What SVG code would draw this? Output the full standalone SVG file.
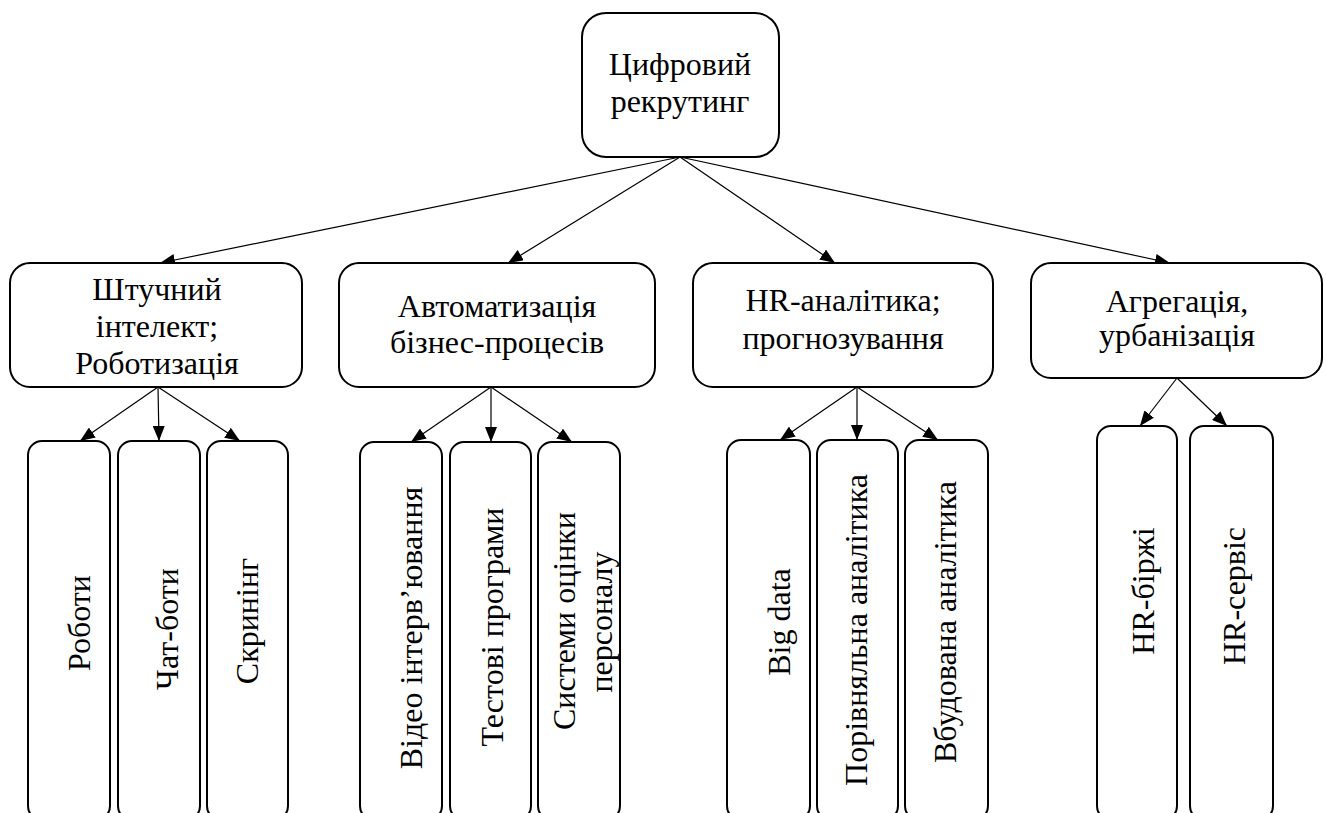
<svg xmlns="http://www.w3.org/2000/svg" width="1326" height="813" viewBox="0 0 1326 813" font-family="Liberation Serif, serif">
<defs>
<style>
.box{fill:#fff;stroke:#000;stroke-width:2}
.t{font-size:32px;fill:#000;text-anchor:middle}
.c{stroke:#000;stroke-width:1.2;fill:none;marker-end:url(#ah)}
</style>
<marker id="ah" markerUnits="userSpaceOnUse" markerWidth="16" markerHeight="12" refX="15" refY="6" orient="auto">
<path d="M0,0 L15,6 L0,12 z" fill="#000"/>
</marker>
</defs>
<rect width="1326" height="813" fill="#fff"/>
<g id="connectors">
<line class="c" x1="680" y1="157" x2="160" y2="263"/>
<line class="c" x1="680" y1="157" x2="508" y2="263"/>
<line class="c" x1="680" y1="157" x2="835" y2="263"/>
<line class="c" x1="680" y1="157" x2="1170" y2="263"/>
<line class="c" x1="158" y1="387" x2="80" y2="441"/>
<line class="c" x1="158" y1="387" x2="159" y2="441"/>
<line class="c" x1="158" y1="387" x2="240" y2="441"/>
<line class="c" x1="491" y1="387" x2="411" y2="442"/>
<line class="c" x1="491" y1="387" x2="491" y2="442"/>
<line class="c" x1="491" y1="387" x2="572" y2="442"/>
<line class="c" x1="857" y1="387" x2="780" y2="440"/>
<line class="c" x1="857" y1="387" x2="857" y2="440"/>
<line class="c" x1="857" y1="387" x2="938" y2="440"/>
<line class="c" x1="1177" y1="378" x2="1140" y2="426"/>
<line class="c" x1="1177" y1="378" x2="1227" y2="426"/>
</g>
<g id="root">
<rect class="box" x="582" y="13" width="197" height="144" rx="24"/>
<text class="t" x="680" y="75">Цифровий</text>
<text class="t" x="680" y="112">рекрутинг</text>
</g>
<g id="n1">
<rect class="box" x="10" y="263" width="292" height="124" rx="20"/>
<text class="t" x="157" y="300">Штучний</text>
<text class="t" x="157" y="337">інтелект;</text>
<text class="t" x="157" y="374">Роботизація</text>
</g>
<g id="n2">
<rect class="box" x="339" y="263" width="316" height="124" rx="20"/>
<text class="t" x="497" y="317">Автоматизація</text>
<text class="t" x="497" y="353">бізнес-процесів</text>
</g>
<g id="n3">
<rect class="box" x="693" y="263" width="300" height="124" rx="20"/>
<text class="t" x="843" y="311">HR-аналітика;</text>
<text class="t" x="843" y="349">прогнозування</text>
</g>
<g id="n4">
<rect class="box" x="1031" y="263" width="291" height="115" rx="20"/>
<text class="t" x="1177" y="312">Агрегація,</text>
<text class="t" x="1177" y="346">урбанізація</text>
</g>
<g id="l1">
<rect class="box" x="28" y="441" width="82" height="379" rx="14"/>
<text class="t" transform="translate(90,623) rotate(-90)">Роботи</text>
</g>
<g id="l2">
<rect class="box" x="118" y="441" width="82" height="379" rx="14"/>
<text class="t" transform="translate(178,629) rotate(-90)">Чат-боти</text>
</g>
<g id="l3">
<rect class="box" x="207" y="441" width="81" height="379" rx="14"/>
<text class="t" transform="translate(258,621) rotate(-90)">Скринінг</text>
</g>
<g id="l4">
<rect class="box" x="360" y="442" width="82" height="378" rx="14"/>
<text class="t" transform="translate(422,628) rotate(-90)">Відео інтерв’ювання</text>
</g>
<g id="l5">
<rect class="box" x="450" y="442" width="81" height="378" rx="14"/>
<text class="t" transform="translate(503,627) rotate(-90)">Тестові програми</text>
</g>
<g id="l6">
<rect class="box" x="538" y="442" width="82" height="378" rx="14"/>
<text class="t" transform="translate(575,621) rotate(-90)">Системи оцінки</text>
<text class="t" transform="translate(612,622) rotate(-90)">персоналу</text>
</g>
<g id="l7">
<rect class="box" x="727" y="440" width="83" height="380" rx="14"/>
<text class="t" transform="translate(790,622) rotate(-90)">Big data</text>
</g>
<g id="l8">
<rect class="box" x="817" y="440" width="81" height="380" rx="14"/>
<text class="t" transform="translate(867,630) rotate(-90)">Порівняльна аналітика</text>
</g>
<g id="l9">
<rect class="box" x="905" y="440" width="83" height="380" rx="14"/>
<text class="t" transform="translate(956,622) rotate(-90)">Вбудована аналітика</text>
</g>
<g id="l10">
<rect class="box" x="1097" y="426" width="80" height="394" rx="14"/>
<text class="t" transform="translate(1154,591) rotate(-90)">HR-біржі</text>
</g>
<g id="l11">
<rect class="box" x="1190" y="426" width="83" height="394" rx="14"/>
<text class="t" transform="translate(1245,596) rotate(-90)">HR-сервіс</text>
</g>
</svg>
